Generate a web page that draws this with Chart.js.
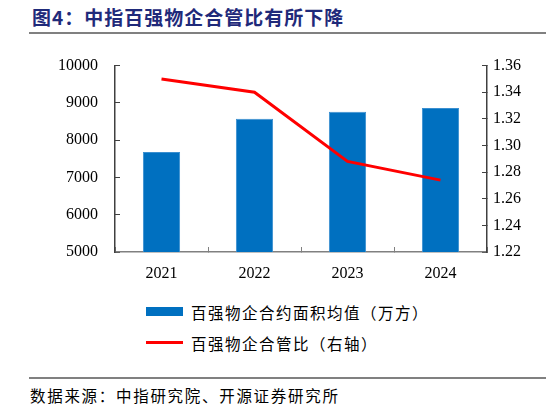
<!DOCTYPE html>
<html>
<head>
<meta charset="utf-8">
<script src="https://cdn.jsdelivr.net/npm/chart.js@4/dist/chart.umd.min.js"></script>
<style>
  html, body { margin: 0; padding: 0; background: #fff; }
  #page { position: relative; width: 546px; height: 408px; overflow: hidden; }
  #title {
    position: absolute; left: 32px; top: 3px;
    font: bold 19px "Noto Sans CJK SC", sans-serif; color: #1f2a7a;
    letter-spacing: 1px; white-space: nowrap;
  }
  #title-rule { position: absolute; left: 29px; right: 0; top: 32px; height: 2px; background: #808080; }
  #wrap { position: absolute; left: 0; top: 34px; width: 546px; height: 256px; }
  #legend { position: absolute; left: 146px; top: 296px; font: 15.5px "Noto Sans CJK SC", sans-serif; color: #000; letter-spacing: 1.5px; }
  .item { height: 31px; display: flex; align-items: center; white-space: nowrap; }
  .swatch { width: 37px; margin-right: 8px; }
  #source-rule { position: absolute; left: 29px; right: 0; top: 377px; height: 1.5px; background: #808080; }
  #source { position: absolute; left: 30px; top: 384px; font: 15.5px "Noto Sans CJK SC", sans-serif; color: #000; letter-spacing: 1.7px; white-space: nowrap; }
</style>
</head>
<body>
<div id="page">
  <div id="title">图4：中指百强物企合管比有所下降</div>
  <div id="title-rule"></div>
  <div id="wrap"><canvas id="chart"></canvas></div>
  <div id="legend"></div>
  <div id="source-rule"></div>
  <div id="source">数据来源：中指研究院、开源证券研究所</div>
</div>
<script>
// data
const years = ['2021', '2022', '2023', '2024'];
const avgArea = [7680, 8575, 8765, 8865];
const ratio = [1.350, 1.340, 1.288, 1.274];
const areaLabel = '百强物企合约面积均值（万方）';
const ratioLabel = '百强物企合管比（右轴）';

const tickFont = { family: '"Liberation Serif", "Times New Roman", serif', size: 16 };

const chart = new Chart('chart', {
  type: 'bar',
  data: {
    labels: years,
    datasets: [
      {
        type: 'line',
        label: ratioLabel,
        data: ratio,
        yAxisID: 'y1',
        borderColor: '#ff0000',
        borderWidth: 3,
        pointRadius: 0,
        tension: 0,
        order: 0
      },
      {
        label: areaLabel,
        data: avgArea,
        yAxisID: 'y',
        backgroundColor: '#0070c0',
        borderColor: '#3a8fd0',
        borderWidth: 1,
        categoryPercentage: 1,
        barPercentage: 0.4,
        order: 1
      }
    ]
  },
  options: {
    responsive: true,
    maintainAspectRatio: false,
    animation: false,
    layout: { padding: 0 },
    plugins: { legend: { display: false }, tooltip: { enabled: false } },
    scales: {
      x: {
        grid: { drawOnChartArea: false, offset: true, tickLength: -5, color: '#808080' },
        border: { color: '#808080', width: 1.5 },
        ticks: { font: tickFont, color: '#000', padding: 17 },
        afterFit: (s) => { s.height = 38; }
      },
      y: {
        position: 'left',
        min: 5000, max: 10000,
        grid: { drawOnChartArea: false, tickLength: -5, color: '#404040' },
        border: { color: '#404040', width: 1.5 },
        ticks: { stepSize: 1000, font: tickFont, color: '#000', padding: 22,
          callback: (v) => String(v) },
        afterFit: (s) => { s.width = 115; }
      },
      y1: {
        position: 'right',
        min: 1.22, max: 1.36,
        grid: { drawOnChartArea: false, tickLength: -5, color: '#404040' },
        border: { color: '#404040', width: 1.5 },
        ticks: { stepSize: 0.02, font: tickFont, color: '#000', padding: 11,
          callback: (v) => Number(v).toFixed(2) },
        afterFit: (s) => { s.width = 59; }
      }
    }
  }
});

// legend built from the datasets, bar first
const legend = document.getElementById('legend');
[1, 0].forEach((i) => {
  const ds = chart.data.datasets[i];
  const item = document.createElement('div');
  item.className = 'item';
  const sw = document.createElement('span');
  sw.className = 'swatch';
  if (ds.type === 'line') {
    sw.style.height = '3px';
    sw.style.background = ds.borderColor;
  } else {
    sw.style.height = '9px';
    sw.style.background = ds.backgroundColor;
  }
  const txt = document.createElement('span');
  txt.textContent = ds.label;
  item.appendChild(sw);
  item.appendChild(txt);
  legend.appendChild(item);
});
</script>
</body>
</html>
